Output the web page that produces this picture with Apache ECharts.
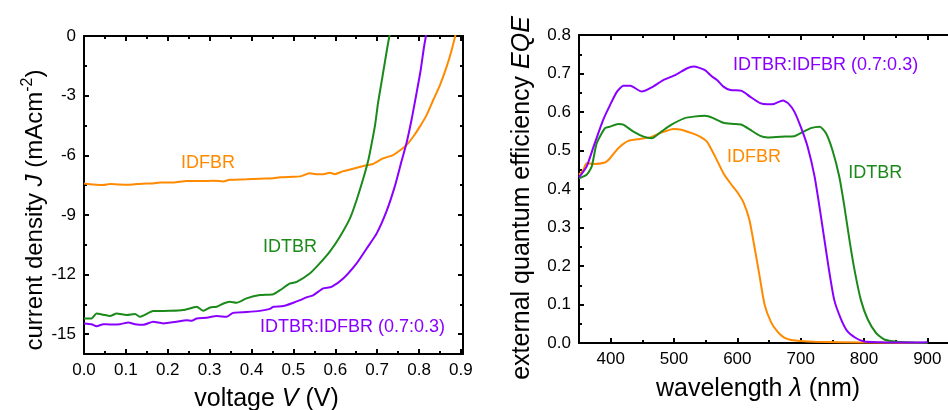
<!DOCTYPE html>
<html>
<head>
<meta charset="utf-8">
<script src="https://cdn.jsdelivr.net/npm/echarts@6/dist/echarts.min.js"></script>
<style>
  html, body { margin: 0; padding: 0; background: #fff; }
  #chart { width: 948px; height: 410px; }
</style>
</head>
<body>
<div id="chart"></div>
<script>
  // J-V curves (voltage in V, current density in mA/cm2)
  const idfbrV = [0, 0.022, 0.046, 0.062, 0.082, 0.110, 0.138, 0.165, 0.181, 0.213, 0.245, 0.277, 0.309, 0.333, 0.348, 0.388, 0.420, 0.452, 0.468, 0.500, 0.519, 0.538, 0.555, 0.571, 0.587, 0.599, 0.619, 0.643, 0.667, 0.690, 0.714, 0.738, 0.754, 0.770, 0.786, 0.802, 0.818, 0.834, 0.850, 0.866, 0.878, 0.890];
  const idfbrJ = [-7.42, -7.47, -7.50, -7.45, -7.47, -7.48, -7.43, -7.42, -7.37, -7.37, -7.30, -7.30, -7.28, -7.32, -7.23, -7.21, -7.18, -7.16, -7.11, -7.08, -7.05, -6.91, -6.95, -6.95, -6.88, -6.95, -6.80, -6.68, -6.54, -6.44, -6.16, -5.99, -5.76, -5.49, -5.07, -4.56, -3.98, -3.22, -2.47, -1.54, -0.70, 0.3];

  const idtbrV = [0, 0.018, 0.030, 0.046, 0.062, 0.078, 0.102, 0.122, 0.134, 0.165, 0.205, 0.237, 0.261, 0.269, 0.285, 0.301, 0.317, 0.333, 0.348, 0.364, 0.388, 0.420, 0.452, 0.468, 0.492, 0.508, 0.539, 0.559, 0.587, 0.611, 0.635, 0.651, 0.667, 0.679, 0.687, 0.695, 0.702, 0.710, 0.718, 0.726, 0.733];
  const idtbrJ = [-14.21, -14.21, -13.96, -14.02, -14.09, -13.96, -14.04, -13.99, -14.13, -13.84, -13.83, -13.79, -13.66, -13.62, -13.83, -13.66, -13.62, -13.46, -13.37, -13.42, -13.20, -13.03, -12.99, -12.79, -12.45, -12.37, -11.95, -11.53, -10.85, -10.10, -9.18, -8.25, -7.16, -6.24, -5.40, -4.48, -3.39, -2.38, -1.37, -0.37, 0.4];

  const blendV = [0, 0.018, 0.030, 0.046, 0.062, 0.086, 0.106, 0.122, 0.142, 0.165, 0.189, 0.221, 0.245, 0.257, 0.269, 0.293, 0.317, 0.340, 0.356, 0.388, 0.420, 0.444, 0.452, 0.476, 0.500, 0.516, 0.531, 0.547, 0.571, 0.591, 0.619, 0.651, 0.675, 0.699, 0.722, 0.742, 0.758, 0.770, 0.782, 0.794, 0.804, 0.812, 0.820];
  const blendJ = [-14.46, -14.50, -14.60, -14.50, -14.51, -14.50, -14.41, -14.50, -14.53, -14.38, -14.46, -14.38, -14.30, -14.33, -14.21, -14.18, -14.09, -14.13, -13.93, -13.89, -13.83, -13.73, -13.62, -13.59, -13.42, -13.29, -13.15, -13.05, -12.70, -12.62, -12.20, -11.44, -10.69, -9.93, -8.84, -7.58, -6.32, -5.40, -4.23, -2.88, -1.71, -0.54, 0.4];

  // EQE spectra (wavelength in nm)
  const idfbrWl  = [350, 357, 362, 373, 391, 399, 412, 428, 446, 462, 478, 499, 512, 528, 541, 552, 565, 578, 589, 599, 610, 619, 627, 635, 643, 653, 664, 674, 685, 700, 722, 800, 900];
  const idfbrEqe = [0.437, 0.450, 0.467, 0.465, 0.469, 0.480, 0.506, 0.525, 0.530, 0.534, 0.545, 0.556, 0.554, 0.545, 0.536, 0.523, 0.484, 0.441, 0.415, 0.394, 0.364, 0.320, 0.250, 0.175, 0.100, 0.055, 0.028, 0.014, 0.008, 0.005, 0.003, 0.001, 0];

  const idtbrWl  = [350, 362, 370, 378, 391, 399, 412, 420, 436, 452, 465, 480, 496, 517, 531, 549, 562, 578, 594, 607, 620, 636, 648, 669, 690, 700, 716, 730, 740, 750, 761, 769, 777, 785, 795, 806, 819, 832, 853, 880, 900];
  const idtbrEqe = [0.428, 0.437, 0.458, 0.519, 0.558, 0.562, 0.569, 0.567, 0.549, 0.536, 0.532, 0.549, 0.567, 0.584, 0.588, 0.590, 0.584, 0.572, 0.569, 0.567, 0.554, 0.538, 0.534, 0.536, 0.537, 0.545, 0.558, 0.562, 0.545, 0.502, 0.432, 0.355, 0.268, 0.190, 0.112, 0.061, 0.026, 0.009, 0.003, 0.001, 0];

  const blendWl  = [350, 362, 373, 388, 399, 410, 420, 431, 449, 467, 483, 502, 520, 531, 549, 560, 568, 578, 589, 607, 620, 636, 648, 658, 672, 680, 690, 700, 711, 722, 732, 743, 753, 764, 774, 787, 800, 827, 850, 880, 900];
  const blendEqe = [0.430, 0.458, 0.510, 0.579, 0.618, 0.653, 0.668, 0.668, 0.653, 0.666, 0.683, 0.696, 0.713, 0.718, 0.709, 0.692, 0.683, 0.666, 0.657, 0.655, 0.640, 0.623, 0.620, 0.621, 0.630, 0.623, 0.601, 0.562, 0.510, 0.432, 0.329, 0.208, 0.112, 0.061, 0.030, 0.013, 0.004, 0.002, 0.001, 0.001, 0.002];

  // ticks
  const vTicks = [0, 0.1, 0.2, 0.3, 0.4, 0.5, 0.6, 0.7, 0.8, 0.9];
  const vMinor = [0.05, 0.15, 0.25, 0.35, 0.45, 0.55, 0.65, 0.75, 0.85];
  const jTicks = [-15, -12, -9, -6, -3, 0];
  const jMinor = [-13.5, -10.5, -7.5, -4.5, -1.5];
  const wlTicks = [400, 500, 600, 700, 800, 900];
  const wlMinor = [350, 450, 550, 650, 750, 850];
  const eqeTicks = [0, 0.1, 0.2, 0.3, 0.4, 0.5, 0.6, 0.7, 0.8];
  const eqeMinor = [0.05, 0.15, 0.25, 0.35, 0.45, 0.55, 0.65, 0.75];

  const orange = '#ff8a00', green = '#1b8a1b', purple = '#8a00ff';
  const font = "'Liberation Sans', Arial, sans-serif";

  const zip = (a, b) => a.map((x, i) => [x, b[i]]);

  // axis + mirrored axis, each with major and minor inward ticks
  function frameAxes(grid, dim, lo, hi, majors, minors, fmt, name, nameGap, size, pad) {
    const sides = dim === 'x' ? ['bottom', 'top'] : ['left', 'right'];
    let out = [];
    sides.forEach((side, k) => {
      [majors, minors].forEach((vals, m) => {
        const main = k === 0 && m === 0;
        out.push({
          type: 'value', gridIndex: grid, position: side, min: lo, max: hi,
          axisLine: { show: m === 0, onZero: false, lineStyle: { color: '#000', width: 2 } },
          axisTick: { show: true, inside: true, length: m === 0 ? 5 : 3, customValues: vals,
            lineStyle: { color: '#000', width: 2 } },
          axisLabel: { show: main, customValues: majors, formatter: fmt, color: '#000',
            fontSize: 17, fontFamily: font, margin: 8 },
          splitLine: { show: false },
          name: main ? name : '',
          nameLocation: 'middle',
          nameGap: nameGap,
          nameRotate: dim === 'x' ? 0 : 90,
          nameTextStyle: {
            color: '#000', fontFamily: font, fontSize: size, padding: pad,
            rich: {
              n: { fontSize: size, fontFamily: font, color: '#000', lineHeight: size + 6 },
              i: { fontSize: size, fontFamily: font, color: '#000', fontStyle: 'italic', lineHeight: size + 6 },
              s: { fontSize: 16, fontFamily: font, color: '#000', verticalAlign: 'top' }
            }
          }
        });
      });
    });
    return out;
  }

  function tag(text, color, x, y) {
    return {
      symbol: 'circle', symbolSize: 1, silent: true,
      itemStyle: { color: 'rgba(0,0,0,0)' },
      label: { show: true, position: 'inside', formatter: text, color: color, fontSize: 18, fontFamily: font },
      data: [{ coord: [x, y] }]
    };
  }

  function curve(name, data, color, xi, yi, mark) {
    return {
      name: name, type: 'line', data: data, xAxisIndex: xi, yAxisIndex: yi,
      showSymbol: false, smooth: 0.2, clip: true,
      lineStyle: { color: color, width: 2 }, itemStyle: { color: color },
      markPoint: mark
    };
  }

  const chart = echarts.init(document.getElementById('chart'));
  chart.setOption({
    animation: false,
    grid: [
      { left: 84, top: 36, width: 379, height: 318, outerBoundsMode: 'none' },
      { left: 579, top: 35, width: 380, height: 308, outerBoundsMode: 'none' }
    ],
    xAxis: [
      ...frameAxes(0, 'x', 0, 0.905, vTicks, vMinor, v => v.toFixed(1),
        '{n|voltage }{i|V}{n| (V)}', 30, 25, [0, 14, 0, 0]),
      ...frameAxes(1, 'x', 350, 950, wlTicks, wlMinor, v => String(v),
        '{n|wavelength }{i|λ}{n| (nm)}', 31, 25, [0, 22, 0, 0])
    ],
    yAxis: [
      ...frameAxes(0, 'y', -16, 0, jTicks, jMinor, v => String(v),
        '{n|current density }{i|J}{n| (mAcm}{s|-2}{n|)}', 34, 24, [0, 30, 0, 0]),
      ...frameAxes(1, 'y', 0, 0.8, eqeTicks, eqeMinor, v => v.toFixed(1),
        '{n|external quantum efficiency }{i|EQE}', 41, 25, [0, 18, 0, 0])
    ],
    series: [
      curve('IDFBR', zip(idfbrV, idfbrJ), orange, 0, 0, tag('IDFBR', orange, 0.296, -6.39)),
      curve('IDTBR', zip(idtbrV, idtbrJ), green, 0, 0, tag('IDTBR', green, 0.492, -10.62)),
      curve('IDTBR:IDFBR (0.7:0.3)', zip(blendV, blendJ), purple, 0, 0,
        tag('IDTBR:IDFBR (0.7:0.3)', purple, 0.641, -14.65)),
      curve('IDFBR', zip(idfbrWl, idfbrEqe), orange, 4, 4, tag('IDFBR', orange, 626.5, 0.483)),
      curve('IDTBR', zip(idtbrWl, idtbrEqe), green, 4, 4, tag('IDTBR', green, 817.6, 0.442)),
      curve('IDTBR:IDFBR (0.7:0.3)', zip(blendWl, blendEqe), purple, 4, 4,
        tag('IDTBR:IDFBR (0.7:0.3)', purple, 739.4, 0.722))
    ]
  });
</script>
</body>
</html>
